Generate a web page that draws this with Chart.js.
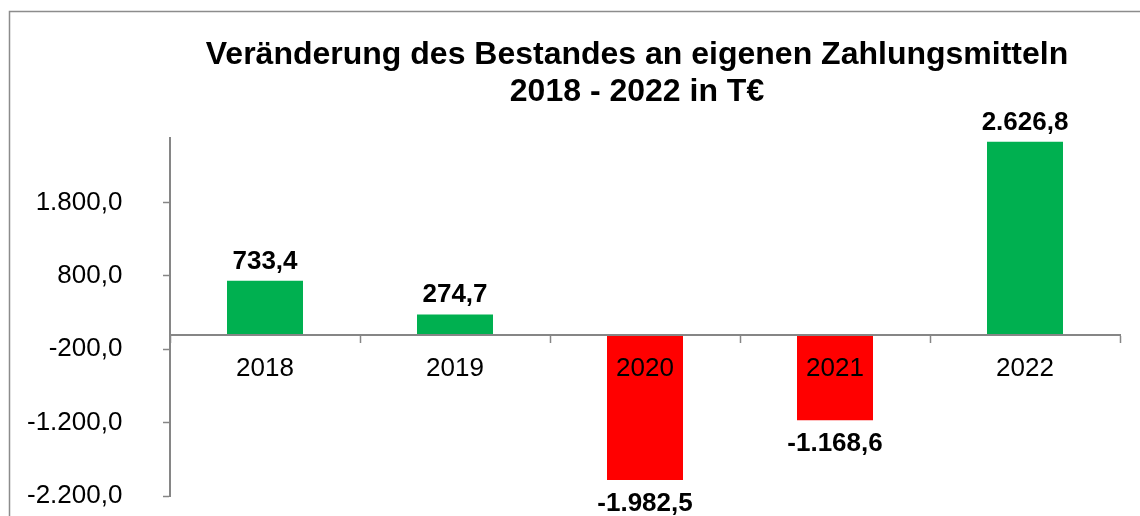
<!DOCTYPE html>
<html>
<head>
<meta charset="utf-8">
<script src="https://cdn.jsdelivr.net/npm/chart.js@4"></script>
<style>
  html, body { margin: 0; padding: 0; background: #fff; }
  #wrap { width: 1140px; height: 516px; }
</style>
</head>
<body>
<div id="wrap"><canvas id="chart" width="1140" height="516"></canvas></div>
<script>
const years = ["2018", "2019", "2020", "2021", "2022"];
const changes = [733.4, 274.7, -1982.5, -1168.6, 2626.8];
const yTicks = [-2200, -1200, -200, 800, 1800];
const titleLines = ["Veränderung des Bestandes an eigenen Zahlungsmitteln", "2018 - 2022 in T€"];

const FONT = "'Liberation Sans', Arial, sans-serif";
const GREEN = "#00b050";
const RED = "#ff0000";
const AXIS = "#868686";

// German number format, one decimal: 2626.8 -> "2.626,8"
function fmt(v) {
  const neg = v < 0;
  const parts = Math.abs(v).toFixed(1).split(".");
  const int = parts[0].replace(/\B(?=(\d{3})+(?!\d))/g, ".");
  return (neg ? "-" : "") + int + "," + parts[1];
}

// outer gray frame like the Excel chart border
const framePlugin = {
  id: "frame",
  beforeDraw(chart) {
    const ctx = chart.ctx;
    ctx.save();
    ctx.fillStyle = "#fff";
    ctx.fillRect(0, 0, chart.width, chart.height);
    ctx.strokeStyle = "#8c8c8c";
    ctx.lineWidth = 1.5;
    ctx.strokeRect(9.5, 11.5, chart.width + 20, chart.height + 20);
    ctx.restore();
  }
};

// value labels above positive bars, below negative ones
const valueLabels = {
  id: "valueLabels",
  afterDraw(chart) {
    const ctx = chart.ctx;
    const meta = chart.getDatasetMeta(0);
    ctx.save();
    ctx.font = "bold 26px " + FONT;
    ctx.fillStyle = "#000";
    ctx.textAlign = "center";
    ctx.textBaseline = "alphabetic";
    meta.data.forEach((bar, i) => {
      const v = changes[i];
      const y = v >= 0 ? bar.y - 12 : bar.y + 31;
      ctx.fillText(fmt(v), bar.x, y);
    });
    ctx.restore();
  }
};

new Chart(document.getElementById("chart"), {
  type: "bar",
  data: {
    labels: years,
    datasets: [{
      data: changes,
      backgroundColor: changes.map(v => v >= 0 ? GREEN : RED),
      borderWidth: 0,
      barPercentage: 0.4,
      categoryPercentage: 1.0
    }]
  },
  options: {
    responsive: false,
    animation: false,
    layout: {
      padding: { left: 154, right: 20, top: 0, bottom: 20 }
    },
    scales: {
      x: {
        position: { y: 0 },
        afterFit(scale) {
          scale.height = 0;
        },
        grid: {
          display: true,
          drawOnChartArea: false,
          drawTicks: true,
          tickLength: 7,
          tickWidth: 1.5,
          tickColor: AXIS,
          offset: true,
          z: 1
        },
        border: { display: true, color: AXIS, width: 2, z: 1 },
        ticks: {
          color: "#000",
          padding: 12,
          z: 1,
          font: { family: FONT, size: 26 }
        }
      },
      y: {
        min: -2200,
        max: 2680,
        afterBuildTicks(scale) {
          scale.ticks = yTicks.map(v => ({ value: v }));
        },
        afterFit(scale) {
          scale.width = 16;
        },
        grid: {
          display: true,
          drawOnChartArea: false,
          drawTicks: true,
          tickLength: 7,
          tickWidth: 1.5,
          tickColor: AXIS
        },
        border: { display: true, color: AXIS, width: 2 },
        ticks: {
          color: "#000",
          // labels sit left of the narrow axis box, right edge at x=123
          mirror: true,
          crossAlign: "far",
          padding: -143,
          font: { family: FONT, size: 26 },
          callback: v => fmt(v)
        }
      }
    },
    plugins: {
      legend: { display: false },
      tooltip: { enabled: false },
      title: {
        display: true,
        text: titleLines,
        color: "#000",
        font: { family: FONT, size: 32, weight: "bold", lineHeight: 1.17 },
        padding: { top: 36, bottom: 27 }
      }
    }
  },
  plugins: [framePlugin, valueLabels]
});
</script>
</body>
</html>
